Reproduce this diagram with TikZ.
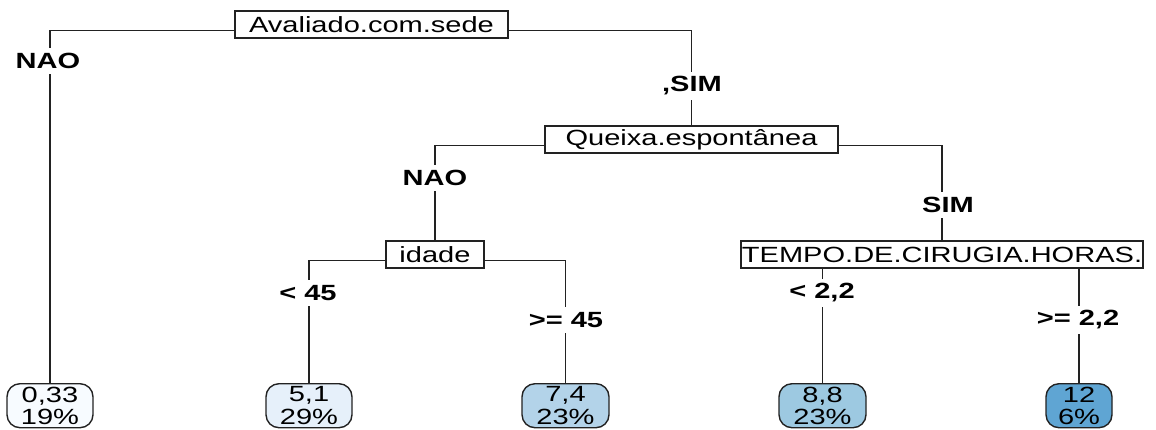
\documentclass[tikz,border=0pt]{standalone}
\usepackage{fontspec}
\usepackage{graphicx}
\setmainfont{Liberation Sans}
\newcommand{\hs}[1]{\scalebox{1.32}[1]{#1}}
\definecolor{lfa}{HTML}{F7FBFF}
\definecolor{lfb}{HTML}{E6F0FA}
\definecolor{lfc}{HTML}{B3D3E9}
\definecolor{lfd}{HTML}{9DC9E1}
\definecolor{lfe}{HTML}{5FA5D3}
\definecolor{ln}{HTML}{222222}
\tikzset{
  splitbox/.style={draw=ln, line width=1.4pt, fill=white, rectangle, inner sep=0pt,
    minimum height=27pt, font=\fontsize{22}{24}\selectfont},
  leafbox/.style={draw=ln, line width=1.4pt, rounded corners=13pt, inner sep=0pt,
    minimum height=44pt, align=center, font=\fontsize{22}{22.5}\selectfont},
  edgelbl/.style={fill=white, inner xsep=1pt, inner ysep=5pt, font=\fontsize{22}{24}\selectfont\bfseries},
  conn/.style={draw=ln, line width=1.4pt},
}
\begin{document}
\begin{tikzpicture}[x=1pt,y=-1pt]
\useasboundingbox (0,0) rectangle (1156,429);
% split nodes
\node[splitbox, minimum width=273pt] (root) at (371.5,24.5) {\hs{Avaliado.com.sede}};
\node[splitbox, minimum width=293pt] (qx) at (691.5,139.5) {\hs{Queixa.espontânea}};
\node[splitbox, minimum width=98pt] (id) at (435,254.5) {\hs{idade}};
\node[splitbox, minimum width=402pt] (tp) at (942,254.5) {\hs{TEMPO.DE.CIRUGIA.HORAS.}};
% leaves
\node[leafbox, fill=lfa, minimum width=86pt, anchor=north] (l1) at (50,383) {\hs{0,33}\\\hs{19\%}};
\node[leafbox, fill=lfb, minimum width=86pt, anchor=north] (l2) at (309,383) {\hs{5,1}\\\hs{29\%}};
\node[leafbox, fill=lfc, minimum width=87pt, anchor=north] (l3) at (565.5,383) {\hs{7,4}\\\hs{23\%}};
\node[leafbox, fill=lfd, minimum width=87pt, anchor=north] (l4) at (822.5,383) {\hs{8,8}\\\hs{23\%}};
\node[leafbox, fill=lfe, minimum width=66pt, anchor=north] (l5) at (1079,383) {\hs{12}\\\hs{6\%}};
% connectors
\draw[conn] ([yshift=-6pt]root.west) -| (l1.north);
\draw[conn] ([yshift=-6pt]root.east) -| (qx.north);
\draw[conn] ([yshift=-6pt]qx.west) -| (id.north);
\draw[conn] ([yshift=-6pt]qx.east) -| (tp.north);
\draw[conn] ([yshift=-6pt]id.west) -| (l2.north);
\draw[conn] ([yshift=-6pt]id.east) -| (l3.north);
\draw[conn] (tp.south -| l4.north) -- (l4.north);
\draw[conn] (tp.south -| l5.north) -- (l5.north);
% edge labels
\node[edgelbl] (e1) at (48,61) {\hs{NAO}};
\node[edgelbl] (e2) at (692,86) {\hs{,SIM}};
\node[edgelbl] (e3) at (435,178) {\hs{NAO}};
\node[edgelbl] (e4) at (948,205) {\hs{SIM}};
\node[edgelbl] (e5) at (308,293) {\hs{< 45}};
\node[edgelbl] (e6) at (566,320) {\hs{>= 45}};
\node[edgelbl] (e7) at (822,293) {\hs{< 2,2}};
\node[edgelbl] (e8) at (1078,320) {\hs{>= 2,2}};
\end{tikzpicture}
\end{document}
